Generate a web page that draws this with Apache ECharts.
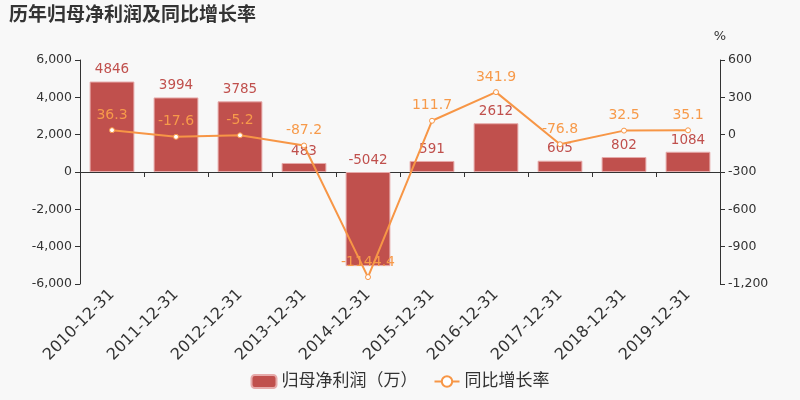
<!DOCTYPE html>
<html><head><meta charset="utf-8">
<script src="https://cdn.jsdelivr.net/npm/echarts@6/dist/echarts.min.js"></script>
<style>html,body{margin:0;padding:0;background:#f8f8f8;}#c{width:800px;height:400px;}</style>
</head><body><div id="c"></div>
<script>
const categories = ['2010-12-31','2011-12-31','2012-12-31','2013-12-31','2014-12-31','2015-12-31','2016-12-31','2017-12-31','2018-12-31','2019-12-31'];
const profit = [4846, 3994, 3785, 483, -5042, 591, 2612, 605, 802, 1084];
const growth = [36.3, -17.6, -5.2, -87.2, -1144.4, 111.7, 341.9, -76.8, 32.5, 35.1];
const font = '"DejaVu Sans", "Noto Sans CJK SC", sans-serif';
const chart = echarts.init(document.getElementById('c'), null, {renderer:'canvas'});
chart.setOption({
  backgroundColor:'#f8f8f8',
  animation:false,
  textStyle:{fontFamily:font},
  title:{text:'历年归母净利润及同比增长率', left:4, top:2, textStyle:{fontSize:19, fontWeight:'bold', color:'#333', fontFamily:font}},
  legend:{bottom:5, left:'center', itemWidth:25, itemHeight:13, itemGap:16, textStyle:{fontSize:17, color:'#333', fontFamily:font},
    data:[{name:'归母净利润（万）'},{name:'同比增长率'}]},
  grid:{left:80, right:80, top:60, bottom:116},
  xAxis:{type:'category', data:categories,
    axisLine:{onZero:true, lineStyle:{color:'#333'}},
    axisTick:{show:true, lineStyle:{color:'#333'}},
    axisLabel:{rotate:45, fontSize:16, color:'#333', interval:0, margin:8, fontFamily:font}},
  yAxis:[
    {type:'value', min:-6000, max:6000, interval:2000, splitLine:{show:false},
     axisLine:{show:true, lineStyle:{color:'#333'}}, axisTick:{show:true},
     axisLabel:{fontSize:12.5, color:'#333', fontFamily:font}},
    {type:'value', name:'%', min:-1200, max:600, interval:300, splitLine:{show:false},
     nameTextStyle:{fontSize:13, color:'#333', fontFamily:font, padding:[0,0,2,0]},
     axisLine:{show:true, lineStyle:{color:'#333'}}, axisTick:{show:true},
     axisLabel:{fontSize:12.5, color:'#333', fontFamily:font}}
  ],
  series:[
    {name:'归母净利润（万）', type:'bar', data:profit, barWidth:'70%',
     itemStyle:{color:'#c0504d', borderColor:'#e6aaaa', borderWidth:1},
     label:{show:true, position:'top', color:'#c0504d', fontSize:13.5, fontFamily:font}},
    {name:'同比增长率', type:'line', yAxisIndex:1, data:growth,
     symbol:'circle', symbolSize:5,
     lineStyle:{color:'#f79646', width:2},
     itemStyle:{color:'#fff', borderColor:'#f79646', borderWidth:1},
     label:{show:true, position:'top', color:'#f79a4a', fontSize:14, fontFamily:font}}
  ]
});
</script></body></html>
